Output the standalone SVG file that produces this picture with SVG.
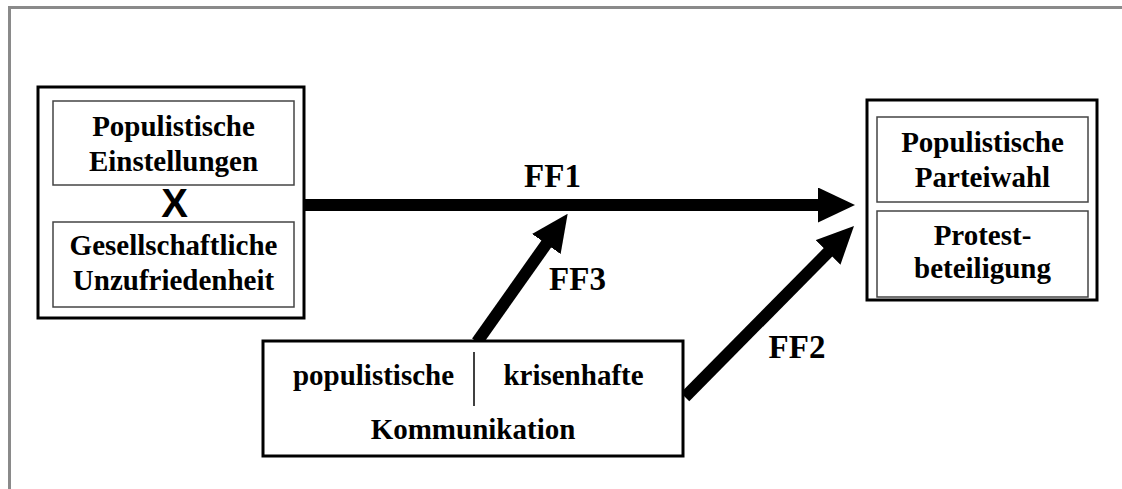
<svg xmlns="http://www.w3.org/2000/svg" width="1122" height="489" viewBox="0 0 1122 489">
<style>
.t{font-family:"Liberation Serif","Times New Roman",serif;font-weight:bold;font-size:29px;fill:#000;text-anchor:middle}
.lbl{font-family:"Liberation Serif","Times New Roman",serif;font-weight:bold;font-size:33px;fill:#000;text-anchor:middle}
.outer{fill:#fff;stroke:#000;stroke-width:3}
.inner{fill:#fff;stroke:#444;stroke-width:1.5}
.conn{stroke:#000;stroke-width:12;fill:none;marker-end:url(#ah)}
</style>
<defs>
<marker id="ah" markerUnits="userSpaceOnUse" markerWidth="37" markerHeight="35" refX="5" refY="17.5" orient="auto" viewBox="0 0 37 35">
<path d="M0,0 L37,17.5 L0,35 z" fill="#000"/>
</marker>
</defs>
<rect x="0" y="0" width="1122" height="489" fill="#fff"/>
<polyline points="9.5,489 9.5,7.5 1122,7.5" fill="none" stroke="#8a8a8a" stroke-width="3"/>
<g id="connectors">
<line class="conn" x1="304" y1="205" x2="823" y2="205"/>
<line class="conn" x1="477" y1="342" x2="549.2" y2="239.9"/>
<line class="conn" x1="685" y1="397" x2="831.5" y2="248.8"/>
<text class="lbl" x="552.5" y="187">FF1</text>
<text class="lbl" x="577.5" y="290">FF3</text>
<text class="lbl" x="797" y="358">FF2</text>
</g>
<g id="node-left">
<rect class="outer" x="38" y="87" width="266" height="231"/>
<rect class="inner" x="53" y="101" width="241" height="84"/>
<rect class="inner" x="53" y="222" width="241" height="85"/>
<text class="t" x="173.5" y="136">Populistische</text>
<text class="t" x="173.5" y="171">Einstellungen</text>
<text x="174.5" y="217" style="font-family:'Liberation Sans',Arial,sans-serif;font-weight:bold;font-size:40px;text-anchor:middle">X</text>
<text class="t" x="173.5" y="255">Gesellschaftliche</text>
<text class="t" x="173.5" y="290">Unzufriedenheit</text>
</g>
<g id="node-right">
<rect class="outer" x="867" y="100" width="230" height="200"/>
<rect class="inner" x="877" y="117" width="211" height="85"/>
<rect class="inner" x="877" y="211" width="211" height="86"/>
<text class="t" x="982.5" y="152">Populistische</text>
<text class="t" x="982.5" y="187">Parteiwahl</text>
<text class="t" x="982.5" y="245">Protest-</text>
<text class="t" x="982.5" y="278">beteiligung</text>
</g>
<g id="node-bottom">
<rect class="outer" x="263" y="341" width="420" height="115"/>
<line x1="474" y1="352" x2="474" y2="406" stroke="#000" stroke-width="1.5"/>
<text class="t" x="373.5" y="385">populistische</text>
<text class="t" x="573.5" y="385">krisenhafte</text>
<text class="t" x="473" y="439">Kommunikation</text>
</g>
</svg>
